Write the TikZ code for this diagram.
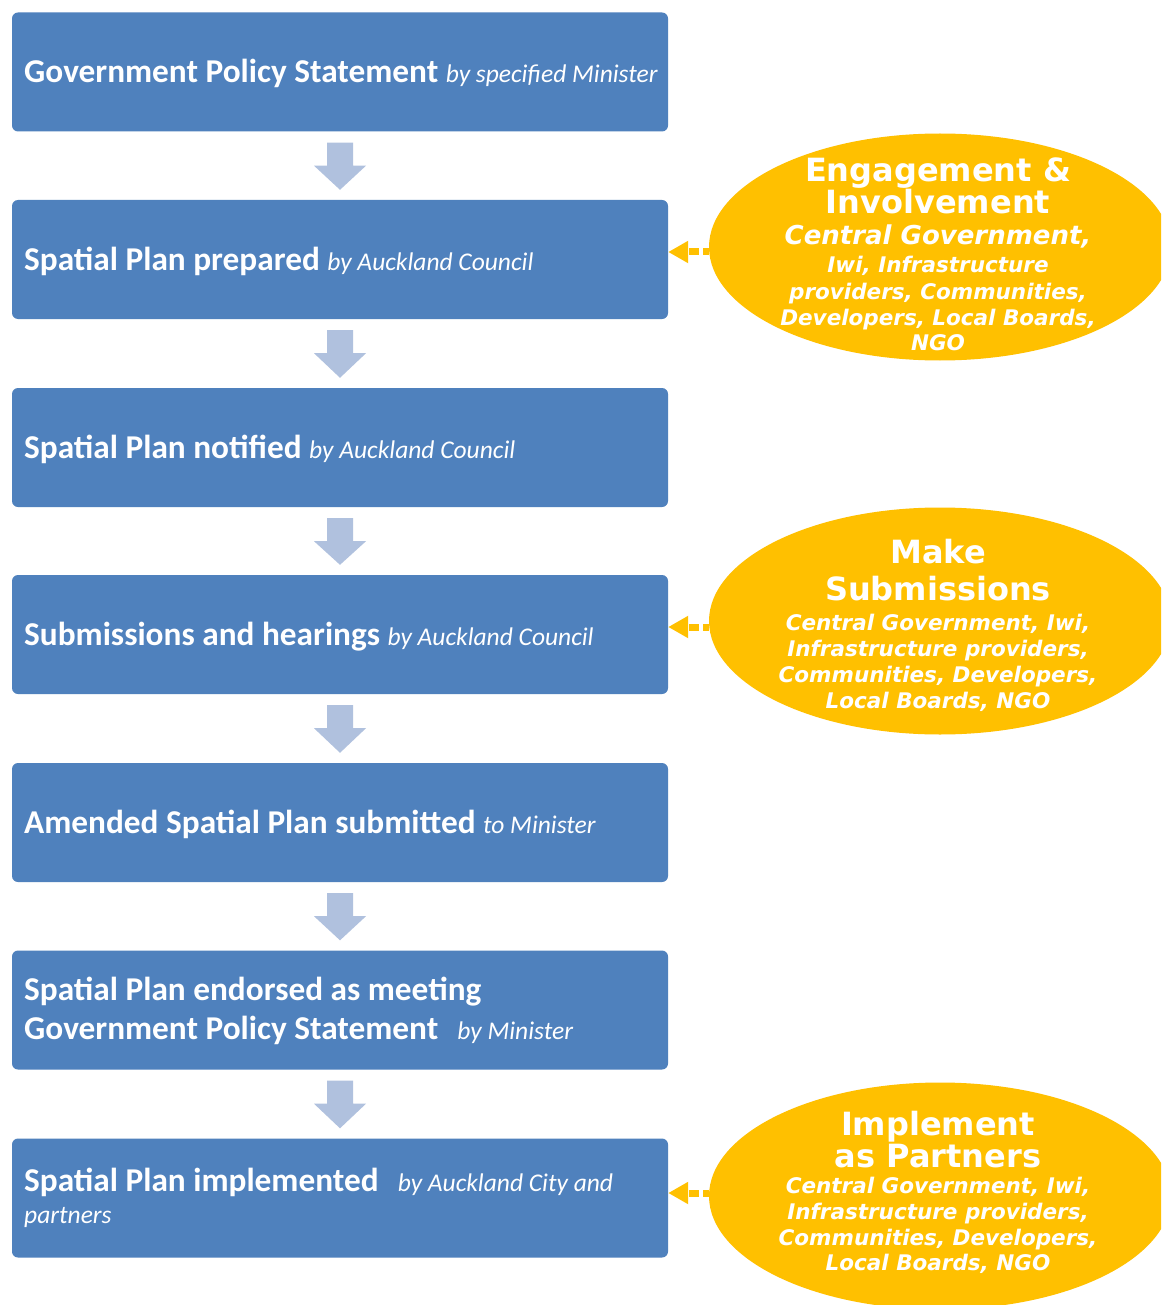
\documentclass[tikz,border=0pt]{standalone}
\usepackage{fontspec}
\setmainfont{Carlito}
\newfontfamily\verdfont{DejaVu Sans}
\usetikzlibrary{shapes.geometric,arrows.meta,calc}

\definecolor{boxblue}{RGB}{79,129,189}
\definecolor{arrowblue}{RGB}{176,193,222}
\definecolor{partyellow}{RGB}{255,192,0}

\newcommand\byline[1]{{\fontsize{25.5}{28}\selectfont\mdseries\itshape #1}}

\tikzset{
  stepbox/.style={fill=boxblue, rounded corners=6pt, minimum width=656pt,
    minimum height=119pt, inner sep=0pt},
  boxtext/.style={anchor=base west, inner sep=0pt, text=white,
    font=\fontsize{33.3}{36}\selectfont\bfseries},
  flowarrow/.style={fill=arrowblue},
  party/.style={ellipse, fill=partyellow, minimum width=462pt,
    minimum height=227pt, inner sep=0pt},
  headtext/.style={anchor=base, inner sep=0pt, text=white,
    font=\verdfont\fontsize{32}{32}\selectfont\bfseries},
  leadtext/.style={anchor=base, inner sep=0pt, text=white,
    font=\verdfont\fontsize{26}{26}\selectfont\bfseries\itshape},
  subtext/.style={anchor=base, inner sep=0pt, text=white,
    font=\verdfont\fontsize{21.5}{26}\selectfont\bfseries\itshape},
  dotarrow/.style={draw=partyellow, line width=7pt,
    dash pattern=on 10pt off 4pt, dash phase=4pt,
    -{Triangle[length=20pt,width=21pt]}},
}

% block arrow between two consecutive steps
\newcommand\flowdown[2]{%
  \fill[flowarrow] ($(#1.south)+(-13,11)$) -- ($(#1.south)+(13,11)$)
    -- ($(#1.south)+(13,34)$) -- ($(#1.south)+(26,34)$)
    -- ($(#2.north)+(0,-10)$)
    -- ($(#1.south)+(-26,34)$) -- ($(#1.south)+(-13,34)$) -- cycle;}

\begin{document}
\begin{tikzpicture}[x=1pt,y=-1pt]
\useasboundingbox[fill=white] (0,0) rectangle (1161,1305);
\clip (0,0) rectangle (1161,1305);

% process steps
\node[stepbox] (b1) at (340,72) {};
\node[stepbox] (b2) at (340,259.5) {};
\node[stepbox] (b3) at (340,447.5) {};
\node[stepbox] (b4) at (340,634.5) {};
\node[stepbox] (b5) at (340,822.5) {};
\node[stepbox] (b6) at (340,1010) {};
\node[stepbox] (b7) at (340,1198) {};

\node[boxtext] (t1) at (24,83) {Government Policy Statement \byline{by specified Minister}};
\node[boxtext] (t2) at (24,270.5) {Spatial Plan prepared \byline{by Auckland Council}};
\node[boxtext] (t3) at (24,458.5) {Spatial Plan notified \byline{by Auckland Council}};
\node[boxtext] (t4) at (24,645.5) {Submissions and hearings \byline{by Auckland Council}};
\node[boxtext] (t5) at (24,833.5) {Amended Spatial Plan submitted \byline{to Minister}};
\node[boxtext] (t6a) at (24,1000) {Spatial Plan endorsed as meeting};
\node[boxtext] (t6b) at (24,1039) {Government Policy Statement\hspace{0.35em} \byline{by Minister}};
\node[boxtext] (t7a) at (24,1191) {Spatial Plan implemented\hspace{0.35em} \byline{by Auckland City and}};
\node[boxtext] (t7b) at (24,1223) {\byline{partners}};

\flowdown{b1}{b2}
\flowdown{b2}{b3}
\flowdown{b3}{b4}
\flowdown{b4}{b5}
\flowdown{b5}{b6}
\flowdown{b6}{b7}

% participants
\node[party] (e1) at (940,247) {};
\node[party] (e2) at (940,621) {};
\node[party] (e3) at (940,1196) {};

\node[headtext] (e1a) at (938,182) {Engagement \&};
\node[headtext] (e1b) at (938,214) {Involvement};
\node[leadtext] (e1c) at (938,245) {Central Government,};
\node[subtext] (e1d) at (938,273) {Iwi, Infrastructure};
\node[subtext] (e1e) at (938,299) {providers, Communities,};
\node[subtext] (e1f) at (938,325) {Developers, Local Boards,};
\node[subtext] (e1g) at (938,350) {NGO};

\node[headtext] (e2a) at (938,563) {Make};
\node[headtext] (e2b) at (938,600) {Submissions};
\node[subtext] (e2c) at (938,630) {Central Government, Iwi,};
\node[subtext] (e2d) at (938,656) {Infrastructure providers,};
\node[subtext] (e2e) at (938,682) {Communities, Developers,};
\node[subtext] (e2f) at (938,708) {Local Boards, NGO};

\node[headtext] (e3a) at (938,1135) {Implement};
\node[headtext] (e3b) at (938,1167) {as Partners};
\node[subtext] (e3c) at (938,1193) {Central Government, Iwi,};
\node[subtext] (e3d) at (938,1219) {Infrastructure providers,};
\node[subtext] (e3e) at (938,1245) {Communities, Developers,};
\node[subtext] (e3f) at (938,1270) {Local Boards, NGO};

% links into the steps
\coordinate (s1) at ($(e1.west)+(0,5)$);
\coordinate (s2) at ($(e2.west)+(0,6)$);
\coordinate (s3) at ($(e3.west)+(0,-3)$);
\draw[dotarrow] (s1) -- (s1 -| b2.east);
\draw[dotarrow] (s2) -- (s2 -| b4.east);
\draw[dotarrow] (s3) -- (s3 -| b7.east);
\end{tikzpicture}
\end{document}
